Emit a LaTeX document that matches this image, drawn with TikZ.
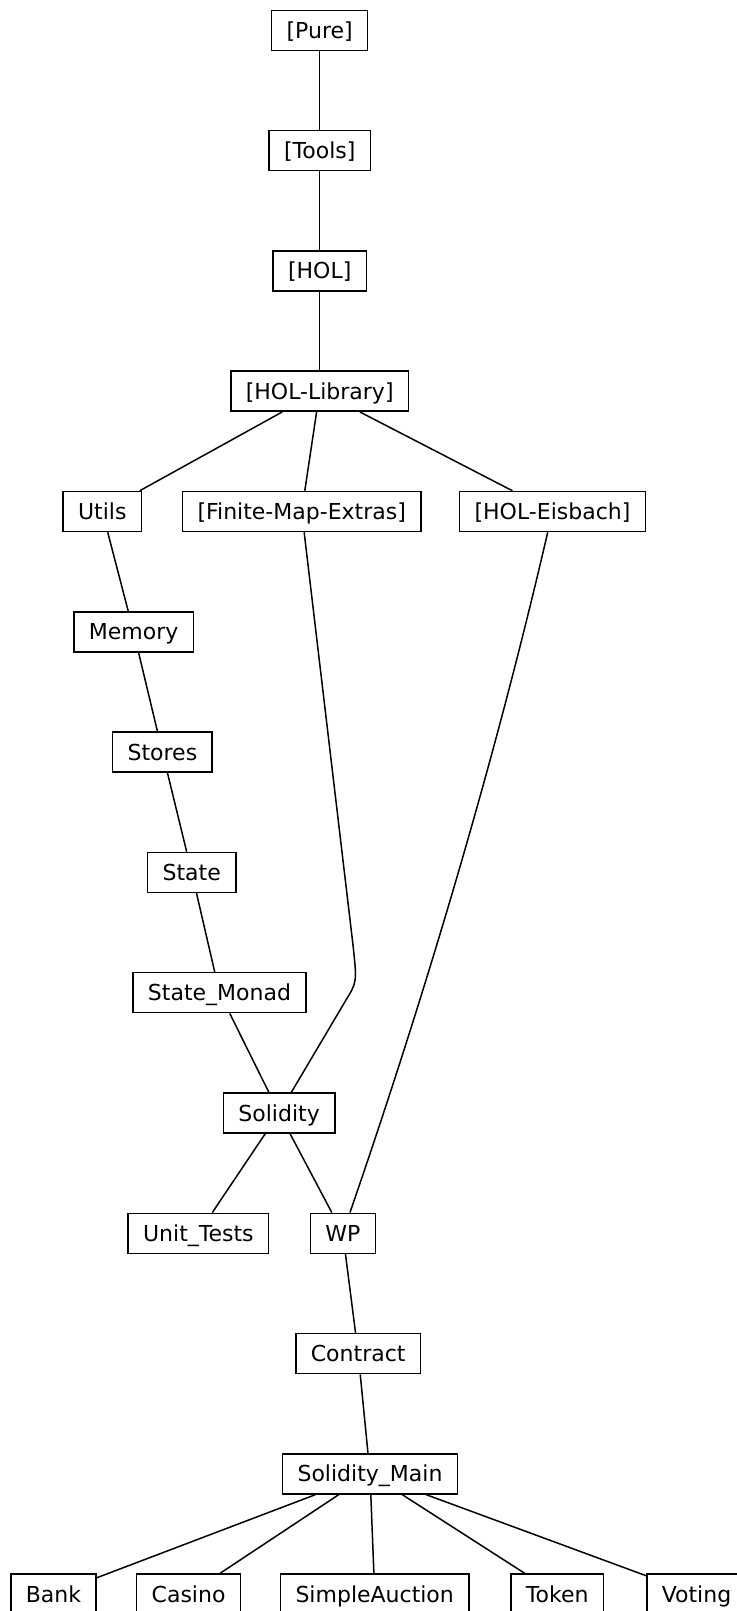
\documentclass[tikz,border=0pt]{standalone}
\usepackage{fontspec}
\setmainfont{DejaVu Sans}
\begin{document}
\begin{tikzpicture}[x=1pt,y=-1pt,
                    thy/.style={draw,line width=1.5pt,rectangle,minimum height=40pt,
                                inner xsep=15pt,inner ysep=0pt,text height=16pt,text depth=0pt,
                                font=\fontsize{22}{26}\selectfont},
                    dep/.style={line width=1.5pt}]
                    \useasboundingbox (0,0) rectangle (736,1611);
                    
                    % Placing theory Pure ... HOL-Library
                    \node [thy] (pure) at (319.7,30.3) {[Pure]};%
                    \node [thy] (tools) at (319.7,150.6) {[Tools]};%
                    \node [thy] (hol) at (319.7,270.9) {[HOL]};%
                    \node [thy] (hollib) at (319.7,391.2) {[HOL-Library]};%
                    
                    % Placing theory Utils, Finite-Map-Extras, HOL-Eisbach
                    \node [thy] (utils) at (102.3,511.5) {Utils};%
                    \node [thy] (fme) at (301.7,511.5) {[Finite-Map-Extras]};%
                    \node [thy] (eisbach) at (552.5,511.5) {[HOL-Eisbach]};%
                    
                    % Placing theory Memory ... Solidity
                    \node [thy] (memory) at (133.6,631.8) {Memory};%
                    \node [thy] (stores) at (162.4,752.1) {Stores};%
                    \node [thy] (state) at (191.7,872.4) {State};%
                    \node [thy] (statemonad) at (219.5,992.7) {State\_Monad};%
                    \node [thy] (solidity) at (279.1,1113.0) {Solidity};%
                    
                    % Placing theory Unit_Tests ... Solidity_Main
                    \node [thy] (unittests) at (198.4,1233.3) {Unit\_Tests};%
                    \node [thy] (wp) at (342.8,1233.3) {WP};%
                    \node [thy] (contract) at (358.2,1353.6) {Contract};%
                    \node [thy] (solmain) at (370.0,1473.9) {Solidity\_Main};%
                    
                    % Placing theory Bank ... Voting
                    \node [thy] (bank) at (53.5,1594.2) {Bank};%
                    \node [thy] (casino) at (188.6,1594.2) {Casino};%
                    \node [thy] (auction) at (374.7,1594.2) {SimpleAuction};%
                    \node [thy] (token) at (557.2,1594.2) {Token};%
                    \node [thy] (voting) at (696.5,1594.2) {Voting};%
                    
                    % Bend points of the long edges
                    \coordinate (fmeA) at (353,945);%
                    \coordinate (fmeK) at (357,982);%
                    \coordinate (fmeC) at (346,1000);%
                    
                    % Drawing edge Pure Tools HOL HOL-Library
                    \draw [dep] (pure) -- (tools);%
                    \draw [dep] (tools) -- (hol);%
                    \draw [dep] (hol) -- (hollib);%
                    
                    % Drawing edge HOL-Library Utils, Finite-Map-Extras, HOL-Eisbach
                    \draw [dep] (hollib) -- (utils);%
                    \draw [dep] (hollib) -- (fme);%
                    \draw [dep] (hollib) -- (eisbach);%
                    
                    % Drawing edge Utils ... Solidity
                    \draw [dep] (utils) -- (memory);%
                    \draw [dep] (memory) -- (stores);%
                    \draw [dep] (stores) -- (state);%
                    \draw [dep] (state) -- (statemonad);%
                    \draw [dep] (statemonad) -- (solidity);%
                    
                    % Drawing edge Finite-Map-Extras Solidity
                    \draw [dep] (fme) -- (fmeA) .. controls (fmeK) .. (fmeC) -- (solidity);%
                    
                    % Drawing edge HOL-Eisbach WP
                    \draw [dep] (eisbach) .. controls (495,760) and (425,995) .. (wp);%
                    
                    % Drawing edge Solidity Unit_Tests, WP
                    \draw [dep] (solidity) -- (unittests);%
                    \draw [dep] (solidity) -- (wp);%
                    
                    % Drawing edge WP Contract Solidity_Main
                    \draw [dep] (wp) -- (contract);%
                    \draw [dep] (contract) -- (solmain);%
                    
                    % Drawing edge Solidity_Main Bank ... Voting
                    \draw [dep] (solmain) -- (bank);%
                    \draw [dep] (solmain) -- (casino);%
                    \draw [dep] (solmain) -- (auction);%
                    \draw [dep] (solmain) -- (token);%
                    \draw [dep] (solmain) -- (voting);%
\end{tikzpicture}
\end{document}
